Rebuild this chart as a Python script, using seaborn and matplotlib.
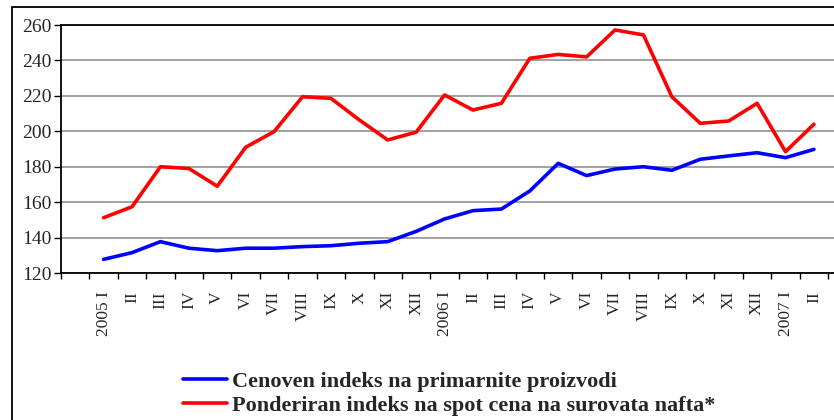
import matplotlib
matplotlib.use("Agg")
import matplotlib.pyplot as plt
import seaborn as sns
import numpy as np
import pandas as pd
from matplotlib.patches import Rectangle
from matplotlib.lines import Line2D

months = ["2005 I", "II", "III", "IV", "V", "VI", "VII", "VIII", "IX", "X", "XI", "XII",
          "2006 I", "II", "III", "IV", "V", "VI", "VII", "VIII", "IX", "X", "XI", "XII",
          "2007 I", "II"]
primary = [127.7, 131.5, 137.7, 134.0, 132.6, 134.0, 134.0, 134.9, 135.4, 136.8, 137.7, 143.5,
           150.5, 155.2, 156.1, 166.3, 181.9, 175.0, 178.7, 180.0, 178.0, 184.2, 186.1, 187.9,
           185.1, 189.8]
oil = [151.2, 157.4, 180.0, 179.0, 169.0, 191.0, 199.8, 219.5, 218.6, 206.4, 195.1, 199.5,
       220.5, 212.0, 215.8, 241.2, 243.4, 242.0, 257.2, 254.4, 219.5, 204.5, 205.8, 215.8,
       188.5, 204.0]
series_names = ["Cenoven indeks na primarnite proizvodi",
                "Ponderiran indeks na spot cena na surovata nafta*"]
yticks = [120, 140, 160, 180, 200, 220, 240, 260]

sns.set_theme(style="white")
plt.rcParams['font.family'] = ['Liberation Serif', 'DejaVu Serif']

W, H = 834, 420
fig = plt.figure(figsize=(W / 100, H / 100), dpi=100)
ax = fig.add_axes([61 / W, 1 - 273 / H, (W - 61) / W + 0.01, (273 - 25) / H])

pos = np.arange(len(months))
df = pd.DataFrame({"pos": np.concatenate([pos, pos]),
                   "value": primary + oil,
                   "series": [series_names[0]] * len(pos) + [series_names[1]] * len(pos)})
sns.lineplot(data=df, x="pos", y="value", hue="series",
             palette={series_names[0]: "#0000ff", series_names[1]: "#ff0000"},
             linewidth=2.6, ax=ax, legend=False)

ax.set_xlim(-1.5, 26.0)
ax.set_ylim(120, 260)
ax.set_yticks(yticks)
ax.set_yticklabels([str(t) for t in yticks], fontsize=14)
ax.yaxis.grid(True, color="#9a9a9a", linewidth=1.3)
ax.set_axisbelow(True)
ax.set_xlabel("")
ax.set_ylabel("")

ax.set_xticks(np.arange(-1.5, 26.0, 1.0))
ax.set_xticklabels([])
ax.set_xticks(pos, minor=True)
ax.set_xticklabels(months, minor=True, rotation=90, fontsize=12.5, va="top", ha="center")
ax.tick_params(axis="x", which="major", direction="out", length=4, width=1, color="black", bottom=True)
ax.tick_params(axis="x", which="minor", length=0, pad=13)
ax.tick_params(axis="y", direction="out", length=5, width=1, color="black", left=True, pad=2)

for s in ["left", "bottom", "top"]:
    ax.spines[s].set_visible(True)
    ax.spines[s].set_color("black")
    ax.spines[s].set_linewidth(1.3)
ax.spines["right"].set_visible(False)

# outer frame
fig.patches.append(Rectangle((12 / W, -0.1), 1.2, (H - 7) / H + 0.1, transform=fig.transFigure,
                             fill=False, edgecolor="black", linewidth=1.3, zorder=0))

handles = [Line2D([], [], color="#0000ff", linewidth=2.6),
           Line2D([], [], color="#ff0000", linewidth=2.6)]
fig.legend(handles, series_names, loc="upper left", bbox_to_anchor=(183 / W, 1 - 371 / H),
           frameon=False, prop={"family": "Liberation Serif", "weight": "bold", "size": 16},
           handlelength=2.0, handletextpad=0.2, labelspacing=0.18, borderpad=0, borderaxespad=0)

fig.savefig("out.png", dpi=100)
